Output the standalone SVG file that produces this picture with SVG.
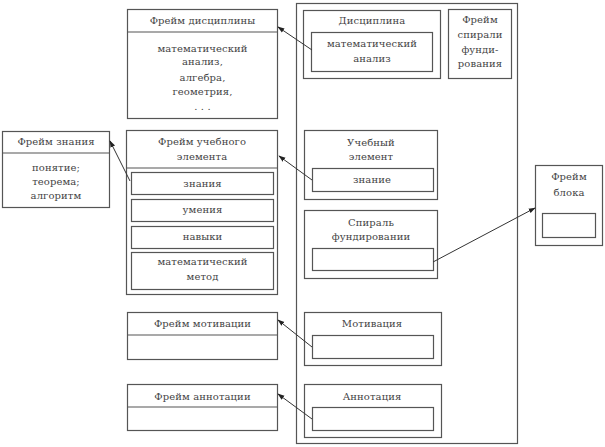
<svg xmlns="http://www.w3.org/2000/svg" width="605" height="447" viewBox="0 0 605 447">
<defs>
<style>
rect{fill:none;stroke:#555;stroke-width:1.2}
line.s{stroke:#555;stroke-width:1.1}
text{font-family:"DejaVu Serif","Liberation Serif",serif;font-size:10px;fill:#444;text-anchor:middle;letter-spacing:0.1px}
.c{stroke:#333;stroke-width:1;fill:none;marker-end:url(#ah)}
</style>
<marker id="ah" viewBox="0 0 10 10" refX="9" refY="5" markerWidth="7" markerHeight="7" orient="auto-start-reverse" markerUnits="userSpaceOnUse">
<path d="M0,1.5 L10,5 L0,8.5 z" fill="#222"/>
</marker>
</defs>
<rect x="0" y="0" width="605" height="447" style="fill:#fff;stroke:none"/>

<g id="container"><rect x="296.5" y="3.5" width="221" height="440"/></g>

<g id="frame-discipline">
<rect x="127.5" y="9.5" width="150" height="109"/>
<line class="s" x1="127.5" y1="32" x2="277.5" y2="32"/>
<text x="202.5" y="24">Фрейм дисциплины</text>
<text x="202.5" y="52">математический</text>
<text x="202.5" y="65">анализ,</text>
<text x="202.5" y="81">алгебра,</text>
<text x="202.5" y="95">геометрия,</text>
<text x="202.5" y="110">. . .</text>
</g>

<g id="frame-knowledge">
<rect x="2.5" y="131.5" width="107" height="76"/>
<line class="s" x1="2.5" y1="153" x2="109.5" y2="153"/>
<text x="56" y="145">Фрейм знания</text>
<text x="56" y="171">понятие;</text>
<text x="56" y="185">теорема;</text>
<text x="56" y="199">алгоритм</text>
</g>

<g id="frame-element">
<rect x="126.5" y="130.5" width="151" height="164"/>
<line class="s" x1="126.5" y1="168" x2="277.5" y2="168"/>
<text x="202" y="145">Фрейм учебного</text>
<text x="202" y="160">элемента</text>
<rect x="131.5" y="172.5" width="142" height="22"/>
<text x="202.5" y="187">знания</text>
<rect x="131.5" y="199.5" width="142" height="22"/>
<text x="202.5" y="213">умения</text>
<rect x="131.5" y="226.5" width="142" height="22"/>
<text x="202.5" y="240">навыки</text>
<rect x="131.5" y="252.5" width="142" height="37"/>
<text x="202.5" y="265">математический</text>
<text x="202.5" y="280">метод</text>
</g>

<g id="frame-motivation">
<rect x="127.5" y="312.5" width="150" height="47"/>
<line class="s" x1="127.5" y1="335" x2="277.5" y2="335"/>
<text x="202.5" y="327">Фрейм мотивации</text>
</g>

<g id="frame-annotation">
<rect x="127.5" y="384.5" width="150" height="46"/>
<line class="s" x1="127.5" y1="407" x2="277.5" y2="407"/>
<text x="202.5" y="400">Фрейм аннотации</text>
</g>

<g id="discipline">
<rect x="303.5" y="10.5" width="137" height="68"/>
<text x="372" y="24">Дисциплина</text>
<rect x="311.5" y="32.5" width="121" height="39"/>
<text x="372" y="47">математический</text>
<text x="372" y="62">анализ</text>
</g>

<g id="frame-spiral">
<rect x="448.5" y="9.5" width="63" height="69"/>
<text x="480" y="23">Фрейм</text>
<text x="480" y="38">спирали</text>
<text x="480" y="53">фунди-</text>
<text x="480" y="67">рования</text>
</g>

<g id="element">
<rect x="304.5" y="130.5" width="133" height="69"/>
<text x="371" y="146">Учебный</text>
<text x="371" y="160">элемент</text>
<rect x="312.5" y="168.5" width="121" height="23"/>
<text x="372" y="183">знание</text>
</g>

<g id="spiral">
<rect x="304.5" y="210.5" width="133" height="68"/>
<text x="371" y="226">Спираль</text>
<text x="371" y="240">фундировании</text>
<rect x="312.5" y="248.5" width="121" height="22"/>
</g>

<g id="motivation">
<rect x="304.5" y="312.5" width="137" height="53"/>
<text x="372" y="327">Мотивация</text>
<rect x="312.5" y="335.5" width="121" height="23"/>
</g>

<g id="annotation">
<rect x="304.5" y="384.5" width="137" height="53"/>
<text x="372" y="400">Аннотация</text>
<rect x="312.5" y="407.5" width="121" height="23"/>
</g>

<g id="frame-block">
<rect x="535.5" y="165.5" width="67" height="80"/>
<text x="569" y="180">Фрейм</text>
<text x="569" y="196">блока</text>
<rect x="542.5" y="213.5" width="53" height="24"/>
</g>

<g id="connectors">
<line class="c" x1="312" y1="50" x2="278" y2="27"/>
<line class="c" x1="312" y1="180" x2="279" y2="156"/>
<line class="c" x1="130" y1="181" x2="110" y2="141"/>
<line class="c" x1="433" y1="262" x2="535" y2="208"/>
<line class="c" x1="312" y1="347" x2="278" y2="320"/>
<line class="c" x1="312" y1="419" x2="278" y2="394"/>
</g>
</svg>
